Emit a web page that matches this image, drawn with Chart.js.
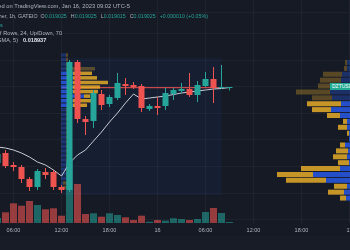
<!DOCTYPE html>
<html>
<head>
<meta charset="utf-8">
<script src="https://cdn.jsdelivr.net/npm/chart.js@4.4.1/dist/chart.umd.min.js"></script>
<style>
html,body{margin:0;padding:0;background:#161a25;}
#wrap{position:relative;width:350px;height:250px;overflow:hidden;background:#161a25;font-family:"Liberation Sans",Arial,sans-serif;}
#wrap canvas{position:absolute;left:0;top:0;}
.lg{position:absolute;white-space:nowrap;font-size:5.6px;line-height:7px;color:#b2b5be;}
.v{color:#26a69a;margin-right:4px;}
</style>
</head>
<body>
<div id="wrap">
	<div style="position:absolute;left:0;top:236px;width:350px;height:14px;background:#181c27"></div>
	<canvas id="profileChart" width="350" height="250"></canvas>
	<canvas id="mainChart" width="350" height="250"></canvas>
	<div style="position:absolute;left:0;top:12px;width:350px;height:1px;background:#1f232e"></div>
	<div class="lg" style="right:220px;top:2.5px;font-size:5.8px">Published on TradingView.com, Jan 16, 2023 09:02 UTC-5</div>
	<div class="lg" style="right:142px;top:13px;font-size:5.3px">DZT / Tether, 1h, GATEIO &nbsp;O<span class="v">0.019025</span>H<span class="v">0.019025</span>L<span class="v">0.019015</span>C<span class="v">0.019025</span><span class="v" style="margin:0">+0.000010 (+0.05%)</span></div>
	<div class="lg" style="left:0;top:21.5px;color:#26a69a">s</div>
	<div class="lg" style="right:288px;top:30px">VRVP Number Of Rows, 24, Up/Down, 70</div>
	<div class="lg" style="right:332px;top:37px">MA (close, SMA, 5)</div>
	<div class="lg" style="left:23px;top:37px;color:#e0e3eb;font-weight:bold">0.018937</div>
	<div style="position:absolute;left:330px;top:83px;width:40px;height:7px;background:#22ab94;color:#fff;font-size:5px;line-height:7px;padding-left:2px;font-family:'Liberation Sans',Arial,sans-serif">DZTUSDT</div>
</div>
<script>
	//캔들 시간 (1시간봉, 1/15 04:00 ~ 1/16 09:00)
	var times = ['04:00','05:00','06:00','07:00','08:00','09:00','10:00','11:00','12:00','13:00',
		'14:00','15:00','16:00','17:00','18:00','19:00','20:00','21:00','22:00','23:00',
		'00:00','01:00','02:00','03:00','04:00','05:00','06:00','07:00','08:00','09:00'];
	//시가
	var opens = [0.018725,0.018765,0.018717,0.018709,0.018661,0.018629,0.018689,0.018689,0.018629,0.018617,
		0.019129,0.018901,0.018893,0.019001,0.018961,0.018985,0.019041,0.019037,0.019033,0.018941,
		0.018953,0.018953,0.019001,0.019013,0.019021,0.018997,0.019033,0.019061,0.019025,0.019025];
	//고가
	var highs = [0.018777,0.018777,0.018729,0.018717,0.018669,0.018701,0.018705,0.018697,0.018637,0.019137,
		0.019137,0.018913,0.019017,0.019017,0.018997,0.019085,0.019065,0.019049,0.019041,0.018961,
		0.018989,0.019025,0.019025,0.019045,0.019085,0.019053,0.019089,0.019109,0.019117,0.019025];
	//저가
	var lows = [0.018713,0.018705,0.018693,0.018645,0.018613,0.018617,0.018661,0.018617,0.018605,0.018609,
		0.018885,0.018837,0.018865,0.018937,0.018949,0.018977,0.018997,0.019021,0.018929,0.018933,
		0.018917,0.018937,0.018977,0.019005,0.018989,0.018969,0.019029,0.018965,0.019021,0.019015];
	//종가
	var closes = [0.018761,0.018713,0.018709,0.018661,0.018629,0.018693,0.018677,0.018629,0.018617,0.019129,
		0.018901,0.018889,0.019005,0.018957,0.018989,0.019045,0.019033,0.019029,0.018945,0.018953,
		0.018945,0.019005,0.019017,0.019021,0.018997,0.019037,0.019061,0.019025,0.019029,0.019025];
	//거래량
	var volumes = [5000,10700,19700,17300,22000,18000,13700,14700,7300,62000,
		39000,9000,9700,6300,9700,8000,5700,3000,7300,1300,
		3000,2300,4700,4000,3000,4000,11000,15000,10000,1000];
	//이동평균 (SMA 5)
	var smaValues = [0.018789,0.018785,0.018777,0.018765,0.018749,0.018729,0.018717,0.018697,0.018673,0.018725,
		0.018757,0.018777,0.018813,0.018849,0.018889,0.018925,0.018965,0.019001,0.018981,0.018985,
		0.018989,0.018993,0.018999,0.019005,0.019009,0.019013,0.019017,0.019021,0.019023,0.019027];

	//시간축 라벨
	var tickPos = [2, 8, 14, 20, 26, 32, 38, 44];
	var tickText = ['06:00', '12:00', '18:00', '16', '06:00', '12:00', '18:00', '17'];
	//가격 그리드
	var gridPrices = [0.019241, 0.019135, 0.019029, 0.018923, 0.018817, 0.018711, 0.018605, 0.018499];

	//고정 범위 볼륨 프로파일 (왼쪽)
	var rangeStart = 8;
	var rangeEnd = 28;
	var leftHigh = 0.019145;
	var leftLow = 0.018597;
	var leftUp = [5,5,5,5,12,12,12,12,12,23,12,12,5,5,5,5,5,5,5,5,5,5,5,5,5,5,5,5,2,2];
	var leftDown = [2,2,3,29,19,24,35,27,25,6,20,14,2,2,2,2,2,2,2,2,2,2,2,2,2,2,2,2,4,4];
	var leftVA = [4, 11];

	//보이는 범위 볼륨 프로파일 (오른쪽)
	var rightHigh = 0.019149;
	var rightLow = 0.018583;
	var rightUp = [3,3,8,9,12,20,18,9,19,10,3,3,1,1,5,2,3,1,10,37,24,3,6,4];
	var rightDown = [2,3,19,21,20,34,20,34,19,13,4,9,2,0,5,12,14,11,39,36,40,13,16,6];
	var rightVA = [7, 23];

	var upColor = '#26a69a';
	var downColor = '#ef5350';
	var xMin = 0.3125;
	var xMax = 44.0625;
	var pMin = 0.018485;
	var pMax = 0.019377;
	var volMax = 223000;

	function rowPrices(high, low, n){
		var step = (high - low) / n;
		var out = [];
		for(var i = 0; i < n; i++){
			out.push(high - (i + 0.5) * step);
		}
		return out;
	}
	var leftRows = rowPrices(leftHigh, leftLow, leftUp.length);
	var rightRows = rowPrices(rightHigh, rightLow, rightUp.length);

	//POC
	var pocIdx = 0;
	for(var i = 0; i < leftUp.length; i++){
		if(leftUp[i] + leftDown[i] > leftUp[pocIdx] + leftDown[pocIdx]) pocIdx = i;
	}
	var pocPrice = leftRows[pocIdx];

	function isUp(i){ return closes[i] >= opens[i]; }
	function inVA(va, i){ return i >= va[0] && i <= va[1]; }

	var setTicks = function(arr){
		return function(s){
			s.ticks = arr.map(function(v){ return {value: v}; });
		};
	};

	//배경 범위 박스
	var rangeBox = {
		id: 'rangeBox',
		beforeDatasetsDraw: function(chart){
			var ctx = chart.ctx;
			var xs = chart.scales.xt;
			var ys = chart.scales.y;
			var x1 = xs.getPixelForValue(rangeStart);
			var x2 = xs.getPixelForValue(rangeEnd);
			var y1 = ys.getPixelForValue(leftHigh);
			var y2 = ys.getPixelForValue(leftLow);
			ctx.save();
			ctx.fillStyle = 'rgba(41,98,255,0.06)';
			ctx.fillRect(x1, y1, x2 - x1, y2 - y1);
			ctx.restore();
		}
	};

	//프로파일 차트 (아래 레이어)
	var ctx2 = document.getElementById('profileChart').getContext('2d');
	var profile = new Chart(ctx2, {
		data: {
			datasets: [{
				type: 'line',
				xAxisID: 'xt',
				yAxisID: 'y',
				data: [{x: rangeStart, y: pocPrice}, {x: rangeEnd, y: pocPrice}],
				borderColor: '#ef5350',
				borderWidth: 1,
				pointRadius: 0,
				order: 10
			}, {
				type: 'bar',
				indexAxis: 'y',
				xAxisID: 'xl',
				yAxisID: 'y',
				stack: 'L',
				data: leftRows.map(function(p, i){ return {x: leftUp[i], y: p}; }),
				backgroundColor: leftRows.map(function(p, i){ return inVA(leftVA, i) ? 'rgba(41,98,255,0.75)' : 'rgba(41,98,255,0.3)'; }),
				barThickness: 3.5,
				borderWidth: 0,
				inflateAmount: 0
			}, {
				type: 'bar',
				indexAxis: 'y',
				xAxisID: 'xl',
				yAxisID: 'y',
				stack: 'L',
				data: leftRows.map(function(p, i){ return {x: leftDown[i], y: p}; }),
				backgroundColor: leftRows.map(function(p, i){ return inVA(leftVA, i) ? 'rgba(242,180,40,0.8)' : 'rgba(242,180,40,0.3)'; }),
				barThickness: 3.5,
				borderWidth: 0,
				inflateAmount: 0
			}, {
				type: 'bar',
				indexAxis: 'y',
				xAxisID: 'xr',
				yAxisID: 'y',
				stack: 'R',
				data: rightRows.map(function(p, i){ return {x: rightUp[i], y: p}; }),
				backgroundColor: rightRows.map(function(p, i){ return inVA(rightVA, i) ? 'rgba(41,98,255,0.75)' : 'rgba(41,98,255,0.3)'; }),
				barThickness: 5,
				borderWidth: 0,
				inflateAmount: 0
			}, {
				type: 'bar',
				indexAxis: 'y',
				xAxisID: 'xr',
				yAxisID: 'y',
				stack: 'R',
				data: rightRows.map(function(p, i){ return {x: rightDown[i], y: p}; }),
				backgroundColor: rightRows.map(function(p, i){ return inVA(rightVA, i) ? 'rgba(242,180,40,0.8)' : 'rgba(242,180,40,0.3)'; }),
				barThickness: 5,
				borderWidth: 0,
				inflateAmount: 0
			}]
		},
		options: {
			responsive: false,
			animation: false,
			events: [],
			layout: {padding: {left: 0, right: 0, top: 0, bottom: 27}},
			plugins: {legend: {display: false}, tooltip: {enabled: false}},
			scales: {
				xt: {
					type: 'linear', position: 'bottom', min: xMin, max: xMax, offset: false,
					grid: {color: 'rgba(255,255,255,0.045)', drawTicks: false, offset: false},
					border: {display: false},
					ticks: {display: false},
					afterBuildTicks: setTicks(tickPos),
					afterFit: function(s){ s.height = 0; s.paddingLeft = 0; s.paddingRight = 0; }
				},
				y: {
					type: 'linear', position: 'left', min: pMin, max: pMax, offset: false,
					grid: {color: 'rgba(255,255,255,0.035)', drawTicks: false, offset: false},
					border: {display: false},
					ticks: {display: false},
					afterBuildTicks: setTicks(gridPrices),
					afterFit: function(s){ s.width = 0; }
				},
				xl: {type: 'linear', display: false, min: -61, max: 289, stacked: true, offset: false},
				xr: {type: 'linear', display: false, min: 0, max: 350, reverse: true, stacked: true, offset: false}
			}
		},
		plugins: [rangeBox]
	});

	//메인 캔들 차트 (위 레이어)
	var ctx = document.getElementById('mainChart').getContext('2d');
	var chart = new Chart(ctx, {
		data: {
			datasets: [{
				type: 'bar',
				label: 'body',
				yAxisID: 'y',
				data: times.map(function(t, i){ return {x: i, y: [opens[i], closes[i]]}; }),
				backgroundColor: times.map(function(t, i){ return isUp(i) ? upColor : downColor; }),
				barThickness: 6,
				minBarLength: 1,
				grouped: false,
				borderWidth: 0,
				inflateAmount: 0,
				order: 1
			}, {
				type: 'bar',
				label: 'wick',
				yAxisID: 'y',
				data: times.map(function(t, i){ return {x: i, y: [lows[i], highs[i]]}; }),
				backgroundColor: times.map(function(t, i){ return isUp(i) ? upColor : downColor; }),
				barThickness: 1,
				grouped: false,
				borderWidth: 0,
				inflateAmount: 0,
				order: 2
			}, {
				type: 'line',
				label: 'SMA',
				yAxisID: 'y',
				data: times.map(function(t, i){ return {x: i, y: smaValues[i]}; }),
				borderColor: '#c9ccd4',
				borderWidth: 1,
				pointRadius: 0,
				tension: 0,
				order: 3
			}, {
				type: 'bar',
				label: 'Vol',
				yAxisID: 'vol',
				data: times.map(function(t, i){ return {x: i, y: volumes[i]}; }),
				backgroundColor: times.map(function(t, i){ return isUp(i) ? 'rgba(38,166,154,0.55)' : 'rgba(239,83,80,0.6)'; }),
				barThickness: 7,
				grouped: false,
				borderWidth: 0,
				inflateAmount: 0,
				order: 5
			}]
		},
		options: {
			responsive: false,
			animation: false,
			events: [],
			layout: {padding: 0},
			plugins: {legend: {display: false}, tooltip: {enabled: false}},
			scales: {
				x: {
					type: 'linear', position: 'bottom', min: xMin, max: xMax, offset: false,
					grid: {display: false, drawTicks: false, offset: false},
					border: {display: false},
					ticks: {
						color: '#b2b5be',
						font: {size: 5.5, family: 'Liberation Sans'},
						padding: 4,
						maxRotation: 0,
						autoSkip: false,
						callback: function(v){
							var j = tickPos.indexOf(v);
							return j >= 0 ? tickText[j] : '';
						}
					},
					afterBuildTicks: setTicks(tickPos),
					afterFit: function(s){ s.height = 27; s.paddingLeft = 0; s.paddingRight = 0; }
				},
				y: {type: 'linear', display: false, min: pMin, max: pMax},
				vol: {type: 'linear', display: false, position: 'right', min: 0, max: volMax}
			}
		}
	});
</script>
</body>
</html>
